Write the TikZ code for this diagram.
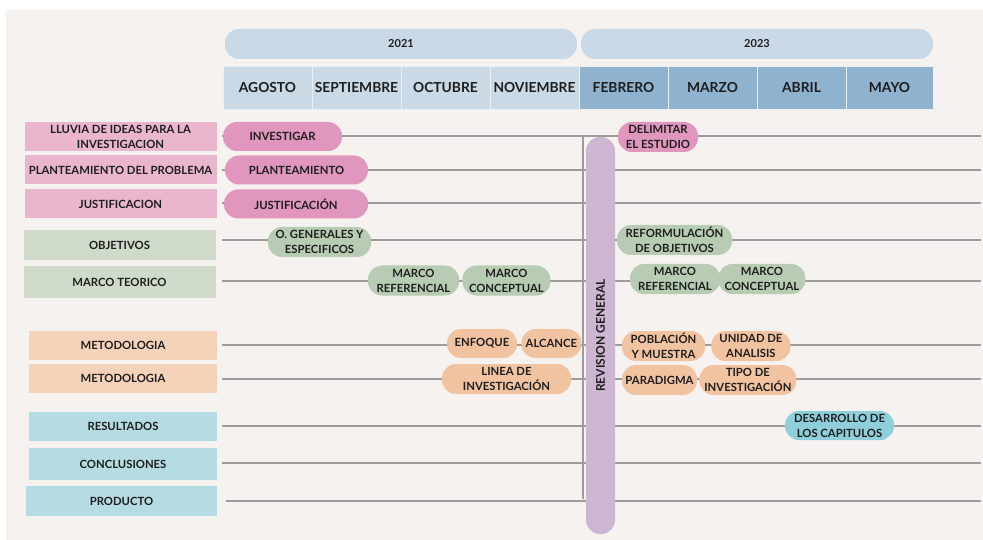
\documentclass[tikz,border=0pt]{standalone}
\usepackage{fontspec}
\setmainfont{Lato}
\usepackage{xcolor}
\usetikzlibrary{positioning}

\definecolor{bgbeige}{HTML}{F6F2EF}
\definecolor{ink}{HTML}{1E1E1E}
\definecolor{yearblue}{HTML}{C9D9E5}
\definecolor{monthdark}{HTML}{8FB2CF}
\definecolor{pinklab}{HTML}{EAB6CE}
\definecolor{pinkpill}{HTML}{E196BE}
\definecolor{greenlab}{HTML}{CFDACB}
\definecolor{greenpill}{HTML}{B8CCB4}
\definecolor{peachlab}{HTML}{F5D2BA}
\definecolor{peachpill}{HTML}{F2C3A0}
\definecolor{teallab}{HTML}{B5DCE2}
\definecolor{tealpill}{HTML}{8FCFDB}
\definecolor{revpurple}{HTML}{CDB6D2}
\definecolor{rowgray}{HTML}{9C9C9C}

\begin{document}
\begin{tikzpicture}[x=1pt,y=-1pt,
  every node/.style={text=ink,align=center,inner sep=0pt,font=\bfseries\fontsize{11.3}{15}\selectfont},
  labbox/.style={rectangle,minimum width=192pt,minimum height=29pt},
  pill/.style={rectangle,rounded corners=14pt,minimum height=29pt},
  yearpill/.style={rectangle,rounded corners=14pt,fill=yearblue,minimum width=352pt,minimum height=30pt,font=\bfseries\fontsize{11}{13}\selectfont},
  month/.style={rectangle,draw=white!60!yearblue,line width=0.8pt,outer sep=0pt,minimum width=89pt,minimum height=43pt,font=\bfseries\fontsize{13.8}{16}\selectfont},
  rowline/.style={draw=rowgray,line width=1.2pt}]
\useasboundingbox (0,0) rectangle (983,540);
\fill[bgbeige] (6,10) rectangle (983,540);

% rows
\coordinate (s1) at (222,136);  \coordinate (e1) at (981,136);
\coordinate (s2) at (222,170);  \coordinate (e2) at (981,170);
\coordinate (s3) at (222,203);  \coordinate (e3) at (981,203);
\coordinate (s4) at (222,240);  \coordinate (e4) at (981,240);
\coordinate (s5) at (222,281);  \coordinate (e5) at (981,281);
\coordinate (s6) at (222,345);  \coordinate (e6) at (981,345);
\coordinate (s7) at (222,379);  \coordinate (e7) at (981,379);
\coordinate (s8) at (222,426);  \coordinate (e8) at (981,426);
\coordinate (s9) at (222,463);  \coordinate (e9) at (981,463);
\coordinate (s10) at (226,501); \coordinate (e10) at (981,501);
\foreach \r in {1,...,10} \draw[rowline] (s\r) -- (e\r);
\coordinate (vbot) at (583,499);
\draw[rowline] (s1 -| vbot) -- (vbot);

% header
\node[yearpill] (y2021) at (401,44) {2021};
\node[yearpill] (y2023) at (757,44) {2023};
\node[month,fill=yearblue] (ago) at (267.5,87.5) {AGOSTO};
\node[month,fill=yearblue,right=0pt of ago] (sep) {SEPTIEMBRE};
\node[month,fill=yearblue,right=0pt of sep] (oct) {OCTUBRE};
\node[month,fill=yearblue,right=0pt of oct] (nov) {NOVIEMBRE};
\node[month,fill=monthdark,right=0pt of nov] (feb) {FEBRERO};
\node[month,fill=monthdark,right=0pt of feb] (mar) {MARZO};
\node[month,fill=monthdark,right=0pt of mar] (abr) {ABRIL};
\node[month,fill=monthdark,right=0pt of abr,minimum width=87pt] (may) {MAYO};

% labels
\node[labbox,fill=pinklab] (lluvia) at (120.5,136.5) {LLUVIA DE IDEAS PARA LA\\INVESTIGACION};
\node[labbox,fill=pinklab] (plant) at (120.5,170) {PLANTEAMIENTO DEL PROBLEMA};
\node[labbox,fill=pinklab] (justif) at (120.5,204) {JUSTIFICACION};
\node[labbox,fill=greenlab,minimum height=30pt] (obj) at (119.5,245) {OBJETIVOS};
\node[labbox,fill=greenlab,minimum height=32pt] (marco) at (119.5,282) {MARCO TEORICO};
\node[labbox,fill=peachlab,minimum width=188pt] (met1) at (123,345) {METODOLOGIA};
\node[labbox,fill=peachlab,minimum width=188pt] (met2) at (123,378.5) {METODOLOGIA};
\node[labbox,fill=teallab,minimum width=188pt] (result) at (123,426) {RESULTADOS};
\node[labbox,fill=teallab,minimum width=188pt,minimum height=32pt] (concl) at (123,464) {CONCLUSIONES};
\node[labbox,fill=teallab,minimum width=191pt,minimum height=30pt] (prod) at (121.5,501) {PRODUCTO};

% revision general
\node[rectangle,rounded corners=14pt,fill=revpurple,minimum width=29pt,minimum height=397pt] (rev) at (600.5,335.5) {};
\node[rotate=90,font=\bfseries\fontsize{12}{14}\selectfont] (revtxt) at (rev.center) {REVISION GENERAL};

% 2021 pills
\node[pill,fill=pinkpill,minimum width=119pt] (inv) at (282.5,136.5) {INVESTIGAR};
\node[pill,fill=pinkpill,minimum width=143pt] (plpill) at (296.5,170) {PLANTEAMIENTO};
\node[pill,fill=pinkpill,minimum width=144pt] (jupill) at (296,204) {JUSTIFICACIÓN};
\node[pill,fill=greenpill,minimum width=103pt,minimum height=30pt] (ogen) at (319.5,242) {O. GENERALES Y\\ESPECIFICOS};
\node[pill,fill=greenpill,minimum width=91pt,minimum height=30pt] (mref1) at (413.5,280.5) {MARCO\\REFERENCIAL};
\node[pill,fill=greenpill,minimum width=88pt,minimum height=30pt,right=3pt of mref1] (mcon1) {MARCO\\CONCEPTUAL};
\node[pill,fill=peachpill,minimum width=70pt] (enf) at (482,343.5) {ENFOQUE};
\node[pill,fill=peachpill,minimum width=60pt,right=4pt of enf] (alc) {ALCANCE};
\node[pill,fill=peachpill,minimum width=129pt,minimum height=30pt] (linea) at (506.5,379) {LINEA DE\\INVESTIGACIÓN};

% 2023 pills
\node[pill,fill=pinkpill,minimum width=80pt,minimum height=30pt] (delim) at (658,137) {DELIMITAR\\EL ESTUDIO};
\node[pill,fill=greenpill,minimum width=115pt,minimum height=30pt] (reform) at (674.5,240) {REFORMULACIÓN\\DE OBJETIVOS};
\node[pill,fill=greenpill,minimum width=90pt,minimum height=30pt] (mref2) at (675,279) {MARCO\\REFERENCIAL};
\node[pill,fill=greenpill,minimum width=87pt,minimum height=30pt,right=-2pt of mref2] (mcon2) {MARCO\\CONCEPTUAL};
\node[pill,fill=peachpill,minimum width=83pt,minimum height=30pt] (pobl) at (663.5,346) {POBLACIÓN\\Y MUESTRA};
\node[pill,fill=peachpill,minimum width=79pt,minimum height=30pt,right=6pt of pobl] (unid) {UNIDAD DE\\ANALISIS};
\node[pill,fill=peachpill,minimum width=75pt,minimum height=30pt] (parad) at (659.5,380) {PARADIGMA};
\node[pill,fill=peachpill,minimum width=97pt,minimum height=30pt,right=2pt of parad] (tipo) {TIPO DE\\INVESTIGACIÓN};
\node[pill,fill=tealpill,minimum width=109pt] (desar) at (839.5,425.5) {DESARROLLO DE\\LOS CAPITULOS};
\end{tikzpicture}
\end{document}
